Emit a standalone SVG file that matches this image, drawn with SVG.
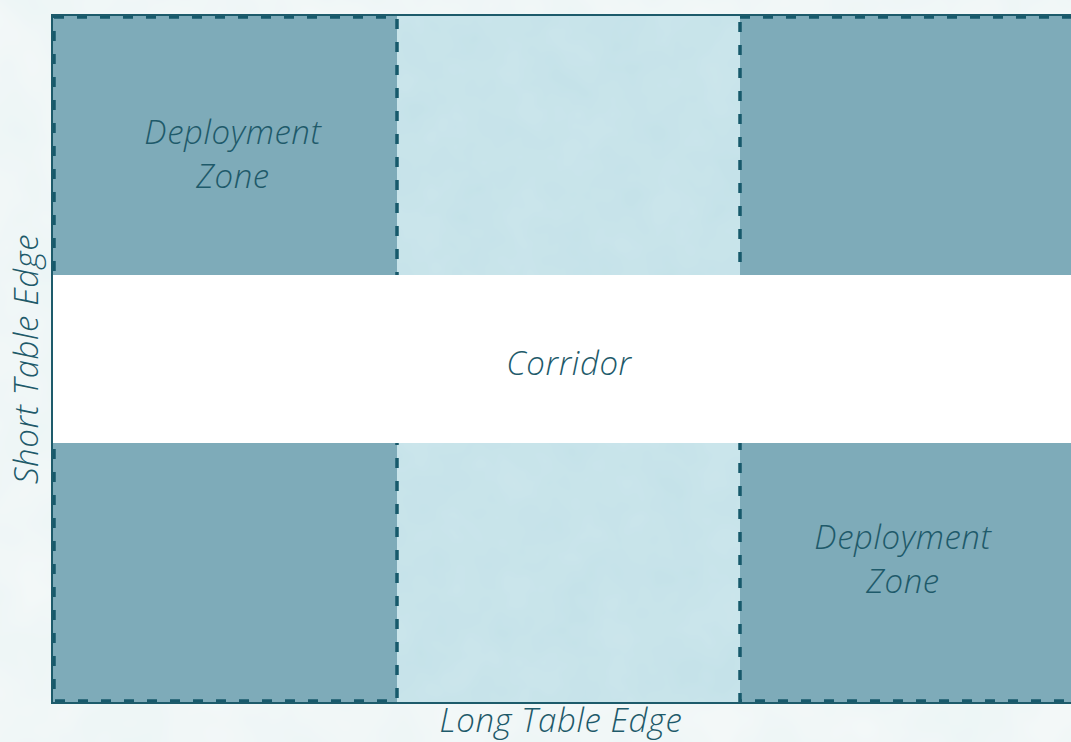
<svg xmlns="http://www.w3.org/2000/svg" width="1071" height="742" viewBox="0 0 1071 742">
  <defs>
    <filter id="wash" x="0" y="0" width="100%" height="100%">
      <feTurbulence type="fractalNoise" baseFrequency="0.012" numOctaves="3" seed="7" result="n"/>
      <feColorMatrix in="n" type="matrix" values="0 0 0 0 0.72  0 0 0 0 0.86  0 0 0 0 0.88  0 0 0 0.55 -0.12" result="tint"/>
      <feComposite in="tint" in2="SourceGraphic" operator="over"/>
    </filter>
    <filter id="wash2" x="0" y="0" width="100%" height="100%">
      <feTurbulence type="fractalNoise" baseFrequency="0.02" numOctaves="3" seed="3" result="n"/>
      <feColorMatrix in="n" type="matrix" values="0 0 0 0 0.68  0 0 0 0 0.84  0 0 0 0 0.87  0 0 0 0.5 -0.1" result="tint"/>
      <feComposite in="tint" in2="SourceGraphic" operator="over"/>
    </filter>
  </defs>
  <style>
    .zone { fill: #7eabb9; }
    .mid { fill: #c5e2e9; }
    .dash { fill: none; stroke: #17596b; stroke-width: 3.5; stroke-dasharray: 10 13; }
    .edge { fill: none; stroke: #1d5b6b; stroke-width: 2; }
    .lbl { font-family: "Open Sans", "Liberation Sans", sans-serif; font-style: italic; font-weight: 300; font-size: 33px; letter-spacing: 0.6px; fill: #1e5a6a; text-anchor: middle; }
  </style>

  <!-- paper background -->
  <rect x="0" y="0" width="1071" height="742" fill="#f3f8f8" filter="url(#wash)"/>

  <!-- centre strips between deployment zones -->
  <g id="middle-strips">
    <rect class="mid" x="397" y="16" width="343" height="687" filter="url(#wash2)"/>
  </g>

  <!-- deployment zones -->
  <g id="zone-top-left">
    <rect class="zone" x="52" y="16" width="345" height="259"/>
    <rect class="dash" x="54" y="17" width="343" height="290"/>
    <text class="lbl" x="233" y="144">Deployment</text>
    <text class="lbl" x="233" y="188">Zone</text>
  </g>
  <g id="zone-top-right">
    <rect class="zone" x="740" y="16" width="340" height="259"/>
    <rect class="dash" x="740" y="17" width="350" height="290"/>
  </g>
  <g id="zone-bottom-left">
    <rect class="zone" x="52" y="443" width="345" height="260"/>
    <rect class="dash" x="54" y="410" width="343" height="291"/>
  </g>
  <g id="zone-bottom-right">
    <rect class="zone" x="740" y="443" width="340" height="260"/>
    <rect class="dash" x="740" y="410" width="350" height="291"/>
    <text class="lbl" x="903" y="549">Deployment</text>
    <text class="lbl" x="903" y="593">Zone</text>
  </g>

  <!-- corridor band -->
  <g id="corridor">
    <rect x="52" y="275" width="1030" height="168" fill="#ffffff"/>
    <text class="lbl" x="569" y="375">Corridor</text>
  </g>

  <!-- table edges -->
  <g id="table-edges">
    <path class="edge" d="M1080 15 H52 V703 H1080"/>
    <text class="lbl" x="561" y="732">Long Table Edge</text>
    <text class="lbl" transform="translate(38 359) rotate(-90)" x="0" y="0">Short Table Edge</text>
  </g>
</svg>
